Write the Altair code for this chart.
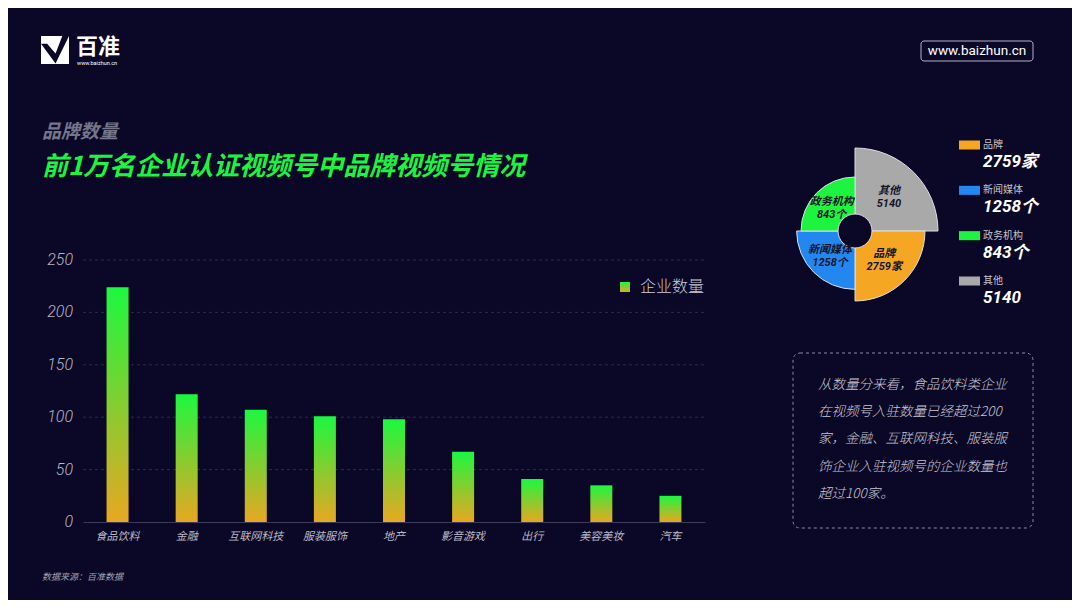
import altair as alt
import pandas as pd

# ---------------- data ----------------
categories = ["食品饮料", "金融", "互联网科技", "服装服饰", "地产", "影音游戏", "出行", "美容美妆", "汽车"]
counts = [224, 122, 107, 101, 98, 67, 41, 35, 25]
y_ticks = [0, 50, 100, 150, 200, 250]
grid_ticks = [50, 100, 150, 200, 250]
series_name = "企业数量"

pie_names = ["其他", "品牌", "新闻媒体", "政务机构"]      # clockwise from 12 o'clock
pie_values = [5140, 2759, 1258, 843]
pie_units = ["", "家", "个", "个"]
pie_colors = ["#A9A9A9", "#F5A623", "#2387F2", "#1DF43F"]
legend_order = ["品牌", "新闻媒体", "政务机构", "其他"]

subtitle = "品牌数量"
title = "前1万名企业认证视频号中品牌视频号情况"
source = "数据来源：百准数据"
site = "www.baizhun.cn"
brand = "百准"
note_lines = [
    "从数量分来看，食品饮料类企业",
    "在视频号入驻数量已经超过200",
    "家，金融、互联网科技、服装服",
    "饰企业入驻视频号的企业数量也",
    "超过100家。",
]

BG = "#0B0727"
FONT = "Roboto, Noto Sans CJK SC, sans-serif"
CJK = "Noto Sans CJK SC, sans-serif"
W, H = 1064, 592

grad = alt.Gradient(
    gradient="linear",
    stops=[alt.GradientStop(color="#E8A722", offset=0),
           alt.GradientStop(color="#8FC92E", offset=0.45),
           alt.GradientStop(color="#1BF83F", offset=1)],
    x1=0, x2=0, y1=1, y2=0,
)

bar_df = pd.DataFrame({"category": categories, "count": counts})
grid_df = pd.DataFrame({"tick": grid_ticks})
tick_df = pd.DataFrame({"tick": y_ticks})
yscale = alt.Scale(domain=[0, 250], range=[514, 252], nice=False, zero=True)

bars = alt.Chart(bar_df).mark_bar(size=22, color=grad).encode(
    x=alt.X("category:N", sort=categories,
            scale=alt.Scale(range=[75, 697], paddingInner=0, paddingOuter=0),
            axis=alt.Axis(title=None, offset=-78, domainColor="#3B3A5C", domainWidth=1,
                          ticks=False, grid=False, labelAngle=0, labelPadding=8,
                          labelColor="#BBBBC8", labelFontSize=11, labelFont=CJK,
                          labelFontStyle="italic")),
    y=alt.Y("count:Q", scale=yscale, axis=None),
)
grid = alt.Chart(grid_df).mark_rule(color="#2C2A52", strokeDash=[3, 3], strokeWidth=1).encode(
    y=alt.Y("tick:Q", scale=yscale, axis=None),
    x=alt.value(75), x2=alt.value(697),
)
ylabels = alt.Chart(tick_df).mark_text(
    align="right", baseline="middle", fontSize=16, color="#B5B5C5", font=FONT,
    fontStyle="italic", fontWeight=300,
).encode(y=alt.Y("tick:Q", scale=yscale, axis=None), x=alt.value(65), text="tick:Q")
bar_chart = alt.layer(grid, bars, ylabels)

def label(text, x, y, size, color, weight="normal", style="normal", align="left",
          baseline="middle", font=FONT, **kw):
    return alt.Chart(pd.DataFrame({"t": [text]})).mark_text(
        align=align, baseline=baseline, fontSize=size, color=color,
        fontWeight=weight, fontStyle=style, font=font, **kw
    ).encode(x=alt.value(x), y=alt.value(y), text="t:N")

series_legend = alt.layer(
    alt.Chart(pd.DataFrame({"t": [series_name]})).mark_point(
        shape="square", filled=True, size=100, fill=grad, opacity=1, strokeWidth=0
    ).encode(x=alt.value(617), y=alt.value(279)),
    label(series_name, 632, 279, 16, "#CCCCD6", font=CJK, weight=300),
)

# ---------------- pie (equal angles, radius by value) ----------------
pie_df = pd.DataFrame({
    "name": pie_names,
    "value": pie_values,
    "slot": [1] * len(pie_names),
    "ord": list(range(len(pie_names))),
    "lab": [f"{n}\n{v}{u}" for n, v, u in zip(pie_names, pie_values, pie_units)],
    "vlab": [f"{v}{u}" for v, u in zip(pie_values, pie_units)],
})
color_scale = alt.Scale(domain=pie_names, range=pie_colors)
theta_scale = alt.Scale(domain=[0, len(pie_names)], range=[0, 6.283185307179586], zero=True, nice=False)

pie_base = alt.Chart(pie_df).transform_window(
    cum="sum(slot)", sort=[alt.SortField("ord")], frame=[None, 0]
).transform_calculate(
    start="datum.cum - datum.slot", mid="datum.cum - datum.slot / 2"
)
arcs = pie_base.mark_arc(radius2=17, stroke="#DDDDE6", strokeWidth=1).encode(
    theta=alt.Theta("start:Q", scale=theta_scale, stack=None),
    theta2="cum:Q",
    radius=alt.Radius("value:Q", scale=alt.Scale(type="sqrt", domain=[843, 5140], range=[54, 83])),
    color=alt.Color("name:N", scale=color_scale, legend=None),
    x=alt.value(847), y=alt.value(223),
)
arc_labels = pie_base.mark_text(
    lineBreak="\n", fontSize=11, fontWeight="bold", fontStyle="italic", font=FONT,
    color="#141428", align="center", baseline="middle", lineHeight=13, dy=-6,
).encode(
    theta=alt.Theta("mid:Q", scale=theta_scale, stack=None),
    radius=alt.Radius("value:Q", scale=alt.Scale(type="sqrt", domain=[843, 5140], range=[33, 48])),
    text="lab:N",
    x=alt.value(847), y=alt.value(223),
)
pie = alt.layer(arcs, arc_labels).resolve_scale(radius="independent")

leg_y = alt.Y("name:N", sort=legend_order, scale=alt.Scale(range=[137, 273], padding=0), axis=None)
pie_legend = alt.layer(
    alt.Chart(pie_df).mark_point(
        shape="M-1,-0.43L1,-0.43L1,0.43L-1,0.43Z", filled=True, size=441, opacity=1, strokeWidth=0
    ).encode(x=alt.value(961.5), y=leg_y,
             color=alt.Color("name:N", scale=color_scale, legend=None)),
    alt.Chart(pie_df).mark_text(align="left", baseline="middle", fontSize=10, color="#C4C4CE",
                                font=CJK).encode(x=alt.value(975), y=leg_y, text="name:N"),
    alt.Chart(pie_df).mark_text(align="left", baseline="middle", fontSize=17, color="#FFFFFF",
                                font=FONT, fontWeight="bold", fontStyle="italic", dy=17
                                ).encode(x=alt.value(975), y=leg_y, text="vlab:N"),
)

# ---------------- annotations ----------------
one = pd.DataFrame({"t": [""]})
note_box = alt.Chart(one).mark_rect(
    fillOpacity=0, stroke="#8A8AA0", strokeWidth=1, strokeDash=[3, 3], cornerRadius=7
).encode(x=alt.value(785), x2=alt.value(1025), y=alt.value(345), y2=alt.value(520))
note_text = alt.Chart(one).mark_text(
    text=note_lines, align="left", baseline="middle", fontSize=13.5, lineHeight=27.2,
    color="#C8C8D4", font=CJK, fontStyle="italic", fontWeight=300,
).encode(x=alt.value(810), y=alt.value(377))

site_box = alt.Chart(one).mark_rect(
    fillOpacity=0, stroke="#B4B4C4", strokeWidth=1, cornerRadius=3
).encode(x=alt.value(913), x2=alt.value(1025), y=alt.value(33), y2=alt.value(53))

logo_sq = alt.Chart(one).mark_point(shape="square", filled=True, fill="#FFFFFF", size=784,
                                    opacity=1, strokeWidth=0).encode(x=alt.value(47), y=alt.value(42))
logo_v = alt.Chart(one).mark_point(
    shape="M-1,-0.44L-0.56,-0.44L0.04,0.25L0.52,-1L1,-1L0.04,0.96Z",
    filled=True, fill=BG, size=784, opacity=1, strokeWidth=0
).encode(x=alt.value(47), y=alt.value(42))

annotations = alt.layer(
    logo_sq, logo_v,
    label(brand, 68, 39, 22, "#FFFFFF", weight="bold", font=CJK),
    label(site, 69, 55, 5.5, "#FFFFFF", font=FONT),
    site_box,
    label(site, 969, 43, 13.5, "#FFFFFF", align="center", font=FONT),
    label(subtitle, 34, 124, 19, "#76768A", weight="bold", style="italic", font=CJK),
    label(title, 34, 159, 26, "#1CF53F", weight="bold", style="italic", font=CJK),
    label(source, 34, 569, 9, "#A0A0B0", style="italic", font=CJK),
    note_box, note_text,
)

chart = alt.layer(bar_chart, series_legend, pie, pie_legend, annotations).resolve_scale(
    y="independent", x="independent"
).properties(
    width=W, height=H, autosize=alt.AutoSizeParams(type="none"), padding=0,
    background=BG,
).configure_view(stroke=None)

chart.save("out.html", embed_options={"renderer": "svg", "actions": False})
